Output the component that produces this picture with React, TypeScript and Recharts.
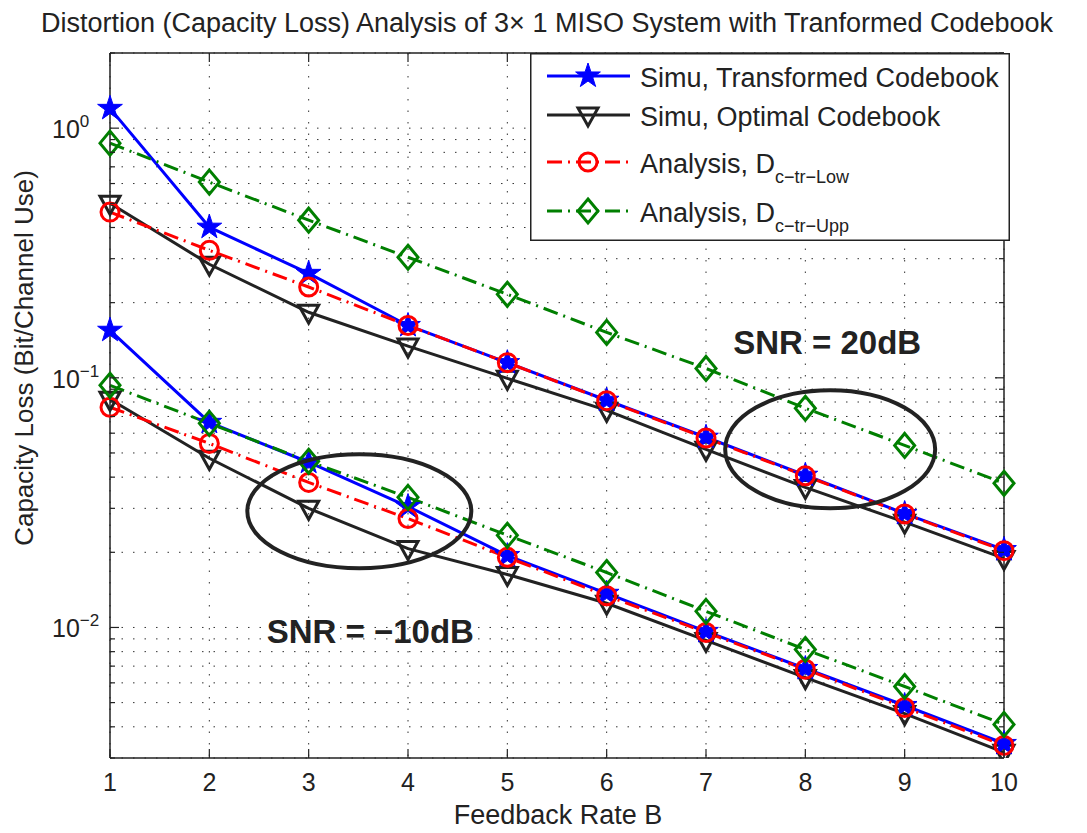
import React from 'react';
import { LineChart, Line, XAxis, YAxis, CartesianGrid, ReferenceDot } from 'recharts';

// Feedback rate B (x axis)
const feedbackRates = [1, 2, 3, 4, 5, 6, 7, 8, 9, 10];

// SNR = 20dB
const simuTransformed20 = [1.2, 0.401, 0.262, 0.162, 0.115, 0.0813, 0.0578, 0.0407, 0.0286, 0.0205];
const simuOptimal20 = [0.5, 0.285, 0.183, 0.134, 0.0995, 0.0741, 0.0517, 0.0364, 0.0264, 0.0189];
const analysisLow20 = [0.461, 0.324, 0.231, 0.162, 0.115, 0.081, 0.0574, 0.0405, 0.0285, 0.0203];
const analysisUpp20 = [0.871, 0.608, 0.428, 0.304, 0.216, 0.152, 0.109, 0.0755, 0.0536, 0.0378];

// SNR = -10dB
const simuTransformedM10 = [0.155, 0.0663, 0.0459, 0.0305, 0.0194, 0.0137, 0.00964, 0.00685, 0.00487, 0.00343];
const simuOptimalM10 = [0.082, 0.0476, 0.03, 0.0207, 0.0163, 0.0125, 0.00887, 0.0063, 0.00452, 0.00316];
const analysisLowM10 = [0.0762, 0.0546, 0.0381, 0.0273, 0.0191, 0.0134, 0.00955, 0.0068, 0.00478, 0.00337];
const analysisUppM10 = [0.0933, 0.0657, 0.0463, 0.0332, 0.0234, 0.0166, 0.0116, 0.00816, 0.0058, 0.00409];

// axis ticks
const xTicks = [1, 2, 3, 4, 5, 6, 7, 8, 9, 10];
const decadeTicks = [0.01, 0.1, 1];
const yGridTicks = [
  0.003, 0.004, 0.005, 0.006, 0.007, 0.008, 0.009,
  0.01, 0.02, 0.03, 0.04, 0.05, 0.06, 0.07, 0.08, 0.09,
  0.1, 0.2, 0.3, 0.4, 0.5, 0.6, 0.7, 0.8, 0.9,
  1, 2,
];

const rows = feedbackRates.map((b, i) => ({
  b,
  t20: simuTransformed20[i],
  o20: simuOptimal20[i],
  l20: analysisLow20[i],
  u20: analysisUpp20[i],
  tm10: simuTransformedM10[i],
  om10: simuOptimalM10[i],
  lm10: analysisLowM10[i],
  um10: analysisUppM10[i],
}));

const FONT = '"Liberation Sans", Arial, Helvetica, sans-serif';
const INK = '#222';
const BLUE = '#0000ff';
const RED = '#ff0000';
const GREEN = '#007f00';
const DASH_DOT = '15 6 2 6';

const PLOT = { left: 110, top: 53, right: 1004, bottom: 758 };

// ---- markers ----
const starPath = (cx: number, cy: number) => {
  const pts: string[] = [];
  for (let i = 0; i < 10; i++) {
    const r = i % 2 === 0 ? 13 : 5;
    const a = -Math.PI / 2 + (i * Math.PI) / 5;
    pts.push(`${cx + r * Math.cos(a)},${cy + r * Math.sin(a)}`);
  }
  return pts.join(' ');
};

const StarMark = ({ cx, cy }: any) => (
  <polygon points={starPath(cx, cy)} fill={BLUE} stroke={BLUE} strokeWidth={1} />
);
const TriMark = ({ cx, cy }: any) => (
  <polygon
    points={`${cx - 10},${cy - 7} ${cx + 10},${cy - 7} ${cx},${cy + 11}`}
    fill="none"
    stroke={INK}
    strokeWidth={3}
  />
);
const CircleMark = ({ cx, cy }: any) => (
  <circle cx={cx} cy={cy} r={9} fill="none" stroke={RED} strokeWidth={3} />
);
const DiamondMark = ({ cx, cy }: any) => (
  <polygon
    points={`${cx},${cy - 12} ${cx + 10},${cy} ${cx},${cy + 12} ${cx - 10},${cy}`}
    fill="none"
    stroke={GREEN}
    strokeWidth={3}
  />
);

const makeDot = (Mark: any, name: string) => (props: any) => {
  const { cx, cy, index } = props;
  if (cx == null || cy == null) return <g key={`${name}-${index}`} />;
  return (
    <g key={`${name}-${index}`}>
      <Mark cx={cx} cy={cy} />
    </g>
  );
};

// ---- ticks (MATLAB style: inside the box) ----
const BottomTick = (props: any) => {
  const { x, payload } = props;
  return (
    <g>
      <line x1={x} x2={x} y1={PLOT.bottom} y2={PLOT.bottom - 9} stroke={INK} strokeWidth={1.2} />
      <text x={x} y={791} textAnchor="middle" fontSize={25} fill={INK} fontFamily={FONT}>
        {payload.value}
      </text>
    </g>
  );
};

const TopTick = (props: any) => {
  const { x } = props;
  return <line x1={x} x2={x} y1={PLOT.top} y2={PLOT.top + 9} stroke={INK} strokeWidth={1.2} />;
};

const LeftTick = (props: any) => {
  const { y, payload } = props;
  const v = payload.value;
  const major = decadeTicks.includes(v);
  const exp = Math.round(Math.log10(v));
  return (
    <g>
      <line x1={PLOT.left} x2={PLOT.left + (major ? 9 : 5)} y1={y} y2={y} stroke={INK} strokeWidth={1.2} />
      {major && (
        <text x={52} y={y + 10} fontSize={25} fill={INK} fontFamily={FONT}>
          10
          <tspan dy={-11} fontSize={17}>
            {exp === 0 ? '0' : `\u2212${Math.abs(exp)}`}
          </tspan>
        </text>
      )}
    </g>
  );
};

const RightTick = (props: any) => {
  const { y, payload } = props;
  const major = decadeTicks.includes(payload.value);
  return (
    <line x1={PLOT.right} x2={PLOT.right - (major ? 9 : 5)} y1={y} y2={y} stroke={INK} strokeWidth={1.2} />
  );
};

// ---- annotations ----
const ellipseShape = (rx: number, ry: number) => (p: any) => (
  <ellipse cx={p.cx} cy={p.cy} rx={rx} ry={ry} fill="none" stroke={INK} strokeWidth={4} />
);
const snrText = (txt: string) => (p: any) => (
  <text
    x={p.cx}
    y={p.cy}
    textAnchor="middle"
    fontSize={33}
    fontWeight="bold"
    fill={INK}
    fontFamily={FONT}
  >
    {txt}
  </text>
);

const legendItems = [
  { label: 'Simu, Transformed Codebook', sub: '', color: BLUE, dash: undefined, Mark: StarMark },
  { label: 'Simu, Optimal Codebook', sub: '', color: INK, dash: undefined, Mark: TriMark },
  { label: 'Analysis, D', sub: 'c\u2212tr\u2212Low', color: RED, dash: DASH_DOT, Mark: CircleMark },
  { label: 'Analysis, D', sub: 'c\u2212tr\u2212Upp', color: GREEN, dash: DASH_DOT, Mark: DiamondMark },
];
const legendRowY = [23, 62, 109, 158];

const App = () => {
  return (
    <div
      style={{
        position: 'fixed',
        left: 0,
        top: 0,
        width: 1087,
        height: 833,
        background: '#fff',
        fontFamily: FONT,
      }}
    >
      <LineChart
        width={1087}
        height={833}
        data={rows}
        margin={{ top: PLOT.top - 1, right: 1087 - PLOT.right - 1, bottom: 833 - PLOT.bottom - 1, left: PLOT.left - 1 }}
      >
        <CartesianGrid stroke="#333" strokeWidth={1} strokeDasharray="1.5 10" />
        <XAxis
          dataKey="b"
          type="number"
          domain={[1, 10]}
          ticks={xTicks}
          interval={0}
          height={1}
          tickLine={false}
          axisLine={{ stroke: INK, strokeWidth: 1.5 }}
          tick={BottomTick}
        />
        <XAxis
          xAxisId="top"
          orientation="top"
          dataKey="b"
          type="number"
          domain={[1, 10]}
          ticks={xTicks}
          interval={0}
          height={1}
          tickLine={false}
          axisLine={{ stroke: INK, strokeWidth: 1.5 }}
          tick={TopTick}
        />
        <YAxis
          type="number"
          scale="log"
          domain={[0.003, 2]}
          allowDataOverflow
          ticks={yGridTicks}
          interval={0}
          width={1}
          tickLine={false}
          axisLine={{ stroke: INK, strokeWidth: 1.5 }}
          tick={LeftTick}
        />
        <YAxis
          yAxisId="right"
          orientation="right"
          type="number"
          scale="log"
          domain={[0.003, 2]}
          allowDataOverflow
          ticks={yGridTicks}
          interval={0}
          width={1}
          tickLine={false}
          axisLine={{ stroke: INK, strokeWidth: 1.5 }}
          tick={RightTick}
        />

        {/* SNR = 20dB */}
        <Line dataKey="o20" stroke={INK} strokeWidth={3} dot={makeDot(TriMark, 'o20')} isAnimationActive={false} />
        <Line dataKey="t20" stroke={BLUE} strokeWidth={3} dot={makeDot(StarMark, 't20')} isAnimationActive={false} />
        <Line dataKey="l20" stroke={RED} strokeWidth={3} strokeDasharray={DASH_DOT} dot={makeDot(CircleMark, 'l20')} isAnimationActive={false} />
        <Line dataKey="u20" stroke={GREEN} strokeWidth={3} strokeDasharray={DASH_DOT} dot={makeDot(DiamondMark, 'u20')} isAnimationActive={false} />

        {/* SNR = -10dB */}
        <Line dataKey="om10" stroke={INK} strokeWidth={3} dot={makeDot(TriMark, 'om10')} isAnimationActive={false} />
        <Line dataKey="tm10" stroke={BLUE} strokeWidth={3} dot={makeDot(StarMark, 'tm10')} isAnimationActive={false} />
        <Line dataKey="lm10" stroke={RED} strokeWidth={3} strokeDasharray={DASH_DOT} dot={makeDot(CircleMark, 'lm10')} isAnimationActive={false} />
        <Line dataKey="um10" stroke={GREEN} strokeWidth={3} strokeDasharray={DASH_DOT} dot={makeDot(DiamondMark, 'um10')} isAnimationActive={false} />

        {/* ellipses and SNR annotations */}
        <ReferenceDot x={8.25} y={0.0517} r={0} ifOverflow="visible" shape={ellipseShape(105, 59)} />
        <ReferenceDot x={3.51} y={0.0292} r={0} ifOverflow="visible" shape={ellipseShape(112, 57)} />
        <ReferenceDot x={8.22} y={0.124} r={0} ifOverflow="visible" shape={snrText('SNR = 20dB')} />
        <ReferenceDot x={3.62} y={0.0087} r={0} ifOverflow="visible" shape={snrText('SNR = \u221210dB')} />
      </LineChart>

      {/* title and axis labels */}
      <svg
        width={1087}
        height={833}
        style={{ position: 'absolute', left: 0, top: 0, pointerEvents: 'none' }}
      >
        <text x={547} y={32} textAnchor="middle" fontSize={27} fill={INK} fontFamily={FONT}>
          Distortion (Capacity Loss) Analysis of 3{'\u00d7'} 1 MISO System with Tranformed Codebook
        </text>
        <text x={558} y={824} textAnchor="middle" fontSize={27} fill={INK} fontFamily={FONT}>
          Feedback Rate B
        </text>
        <text
          x={0}
          y={0}
          transform="translate(33,358) rotate(-90)"
          textAnchor="middle"
          fontSize={26}
          fill={INK}
          fontFamily={FONT}
        >
          Capacity Loss (Bit/Channel Use)
        </text>
      </svg>

      {/* legend */}
      <svg
        width={480}
        height={188}
        style={{ position: 'absolute', left: 530, top: 53, background: '#fff' }}
      >
        <rect x={0.75} y={0.75} width={478.5} height={186.5} fill="#fff" stroke={INK} strokeWidth={1.5} />
        {legendItems.map((it, i) => {
          const y = legendRowY[i];
          const Mark = it.Mark;
          return (
            <g key={it.label + i}>
              <line x1={17} x2={100} y1={y} y2={y} stroke={it.color} strokeWidth={3} strokeDasharray={it.dash} />
              <Mark cx={58} cy={y} />
              <text x={110} y={y + 11} fontSize={27} fill={INK} fontFamily={FONT}>
                {it.label}
                {it.sub && (
                  <tspan dy={10} fontSize={18}>
                    {it.sub}
                  </tspan>
                )}
              </text>
            </g>
          );
        })}
      </svg>
    </div>
  );
};

export default App;
